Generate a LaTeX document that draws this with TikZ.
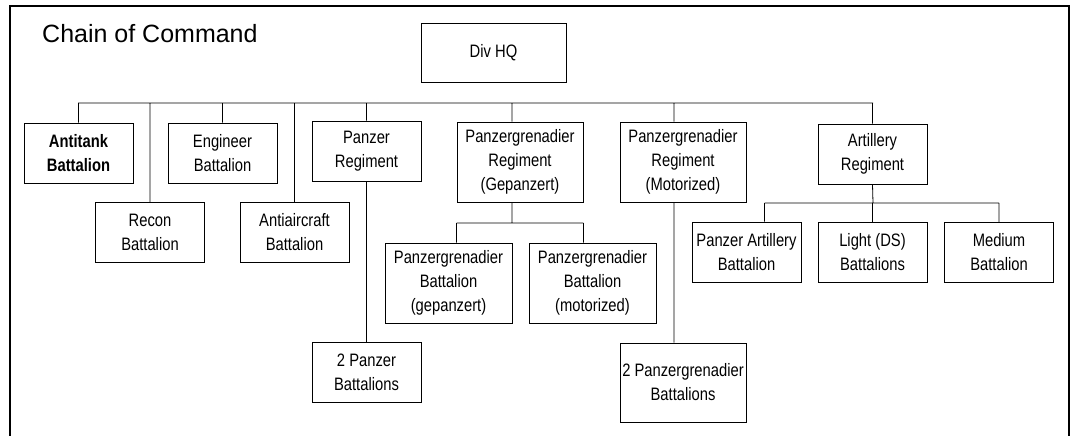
\documentclass[tikz,border=0pt]{standalone}
\usepackage{fontspec}
\setmainfont{Liberation Sans}
\newfontfamily\boxfont[FakeStretch=0.82]{Liberation Sans}
\usepackage{tikz}
\usetikzlibrary{positioning}
\tikzset{x=1pt, y=-1pt, % one unit is one pixel of the chart
every unit/.style=
    { % Sets the properties for each box
        draw,
        line width=0.9pt,
        align=center,
        inner sep=0pt,
        font=\boxfont\fontsize{18}{24}\selectfont
    },
    small unit/.style={every unit, minimum width=109pt, minimum height=60pt},
    large unit/.style={every unit, minimum width=126pt, minimum height=80pt},
    link/.style={ % Sets the properties for each connector
        draw,
        line width=0.8pt
    }
}

\begin{document}
\begin{tikzpicture}
\useasboundingbox (0,0) rectangle (1074,436);
\draw[line width=1.1pt] (10,436) -- (10,6) -- (1069,6) -- (1069,436);
\node [anchor=base west,inner sep=0pt,font=\fontsize{25}{30}\selectfont] (title) at (42,43) {Chain of Command};

\node [every unit,minimum width=145pt,minimum height=59pt] (divhq) at (493.5,52.5) {Div HQ};
%%%%%%%%%%%%%%%%%%%%%%%%%%%%%%%%%%
\node [small unit]        (antitank) at (78.5,153) {\bfseries Antitank\\\bfseries Battalion};
\node [small unit]        (recon) at (150,232.5) {Recon\\Battalion};
\node [small unit]        (engineer) at (222.5,153) {Engineer\\Battalion};
\node [small unit]        (antiair) at (294.5,232.5) {Antiaircraft\\Battalion};
\node [small unit]        (pzreg) at (366.5,151) {Panzer\\Regiment};
\node [large unit]        (pzgrenG) at (520,162) {Panzergrenadier\\Regiment\\(Gepanzert)};
\node [large unit]        (pzgrenM) at (683,162) {Panzergrenadier\\Regiment\\(Motorized)};
\node [small unit]        (artreg) at (872.5,154) {Artillery\\Regiment};
%%%%%%%%%%%%%%%%%%%%%%%%%%%%%%%%%%
\node [large unit,minimum width=127pt] (pzgrenBnG) at (448.5,283) {Panzergrenadier\\Battalion\\(gepanzert)};
\node [large unit,minimum width=127pt] (pzgrenBnM) at (592.5,283) {Panzergrenadier\\Battalion\\(motorized)};
\node [small unit]        (pzbns) at (366.5,372.5) {2 Panzer\\Battalions};
\node [large unit,minimum height=79pt] (pzgrenbns) at (683,382.5) {2 Panzergrenadier\\Battalions};
\node [small unit]        (pzart) at (746.5,252) {Panzer Artillery\\Battalion};
\node [small unit]        (light) at (872.5,252.5) {Light (DS)\\Battalions};
\node [small unit]        (medium) at (999,252.5) {Medium\\Battalion};

\coordinate (busL) at (78,103);
\coordinate (busR) at (873,103);
\coordinate (gbus) at (512,223);
\coordinate (abus) at (873,203);

\draw[link]
    (busL) -- (busR)
    (antitank.north) -- (antitank.north |- busL)
    (recon.north) -- (recon.north |- busL)
    (engineer.north) -- (engineer.north |- busL)
    (antiair.north) -- (antiair.north |- busL)
    (pzreg.north) -- (pzreg.north |- busL)
    ([xshift=-8pt]pzgrenG.north) -- ([xshift=-8pt]pzgrenG.north |- busL)
    ([xshift=-9pt]pzgrenM.north) -- ([xshift=-9pt]pzgrenM.north |- busL)
    (artreg.north) -- (artreg.north |- busL)
    
    (pzreg.south) -- (pzbns.north)
    ([xshift=-9pt]pzgrenM.south) -- ([xshift=-9pt]pzgrenM.south |- pzgrenbns.north)
    
    ([xshift=-8pt]pzgrenG.south) -- (gbus)
    (pzgrenG.south west |- gbus) -- (pzgrenG.south east |- gbus)
    (pzgrenG.south west |- gbus) -- (pzgrenG.south west |- pzgrenBnG.north)
    (pzgrenG.south east |- gbus) -- (pzgrenG.south east |- pzgrenBnM.north)
    
    (artreg.south) -- (abus)
    ([xshift=18pt]pzart.north |- abus) -- (medium.north |- abus)
    ([xshift=18pt]pzart.north) -- ([xshift=18pt]pzart.north |- abus)
    (light.north) -- (light.north |- abus)
    (medium.north) -- (medium.north |- abus)
    ;
\end{tikzpicture}
\end{document}
